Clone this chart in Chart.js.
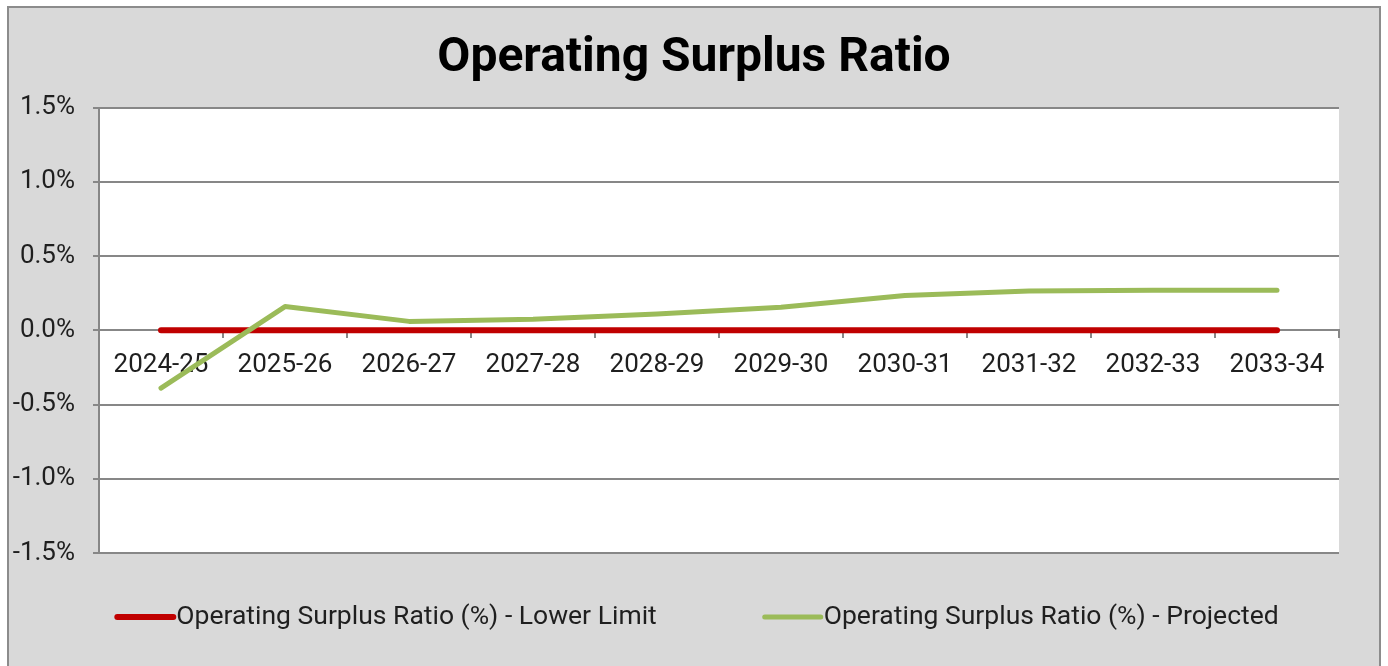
<!DOCTYPE html>
<html>
<head>
<meta charset="utf-8">
<title>Operating Surplus Ratio</title>
<script src="https://cdn.jsdelivr.net/npm/chart.js@4.4.1/dist/chart.umd.min.js"></script>
<style>
    html, body { margin: 0; padding: 0; background: #fff; }
    #ratio-chart { display: block; }
</style>
</head>
<body>
<canvas id="ratio-chart" width="1388" height="666"></canvas>
<script>
// 财年标签
const years = ['2024-25', '2025-26', '2026-27', '2027-28', '2028-29', '2029-30', '2030-31', '2031-32', '2032-33', '2033-34'];
// 下限（%）
const lowerLimit = [0, 0, 0, 0, 0, 0, 0, 0, 0, 0];
// 预测值（%）
const projected = [-0.39, 0.16, 0.06, 0.075, 0.11, 0.155, 0.235, 0.265, 0.27, 0.27];
// Y 轴刻度（%）
const yTicks = [-1.5, -1.0, -0.5, 0, 0.5, 1.0, 1.5];

const GRID_COLOR = '#878787';
const TEXT_COLOR = '#1f1f1f';

Chart.defaults.font.family = 'Roboto';

/**
 * 灰色底框 + 白色绘图区
 */
const framePlugin = {
    id: 'frame',
    beforeDraw(chart) {
        const { ctx, width, height, chartArea: a } = chart;
        ctx.save();
        ctx.fillStyle = '#ffffff';
        ctx.fillRect(0, 0, width, height);
        ctx.fillStyle = '#d9d9d9';
        ctx.fillRect(8, 7, width - 16, height);
        ctx.strokeStyle = '#8c8c8c';
        ctx.lineWidth = 2;
        ctx.strokeRect(8, 7, width - 16, height + 10);
        ctx.fillStyle = '#ffffff';
        ctx.fillRect(a.left, a.top, a.right - a.left, a.bottom - a.top);
        ctx.restore();
    }
};

/**
 * 底部图例：线段 + 文字，按数据集顺序排列
 */
const lineLegendPlugin = {
    id: 'lineLegend',
    afterDraw(chart, args, opts) {
        const { ctx } = chart;
        const items = chart.data.datasets;
        ctx.save();
        ctx.font = opts.fontSize + 'px Roboto';
        const widths = items.map(d => opts.lineLength + opts.textGap + ctx.measureText(d.label).width);
        const total = widths.reduce((s, w) => s + w, 0) + opts.itemGap * (items.length - 1);
        let x = chart.width / 2 - total / 2 + opts.offsetX;
        const y = chart.chartArea.bottom + opts.offsetY;
        items.forEach((d, i) => {
            ctx.strokeStyle = d.borderColor;
            ctx.lineWidth = d.borderWidth;
            ctx.lineCap = 'round';
            ctx.beginPath();
            ctx.moveTo(x, y);
            ctx.lineTo(x + opts.lineLength, y);
            ctx.stroke();
            ctx.fillStyle = TEXT_COLOR;
            ctx.textAlign = 'left';
            ctx.textBaseline = 'middle';
            ctx.fillText(d.label, x + opts.lineLength + opts.textGap, y);
            x += widths[i] + opts.itemGap;
        });
        ctx.restore();
    }
};

const ctx = document.getElementById('ratio-chart').getContext('2d');
const ratioChart = new Chart(ctx, {
    type: 'line',
    data: {
        labels: years,
        datasets: [{
            label: 'Operating Surplus Ratio (%) - Lower Limit',
            data: lowerLimit,
            borderColor: '#c00000',
            borderWidth: 6,
            borderCapStyle: 'round',
            pointRadius: 0,
            tension: 0,
            order: 1
        }, {
            label: 'Operating Surplus Ratio (%) - Projected',
            data: projected,
            borderColor: '#9bbb59',
            borderWidth: 5,
            borderCapStyle: 'round',
            borderJoinStyle: 'round',
            pointRadius: 0,
            tension: 0,
            order: 0
        }]
    },
    options: {
        responsive: false,
        animation: false,
        layout: {
            padding: { top: 0, left: 8, right: 8, bottom: 113 }
        },
        plugins: {
            legend: { display: false },
            tooltip: { enabled: false },
            title: {
                display: true,
                text: 'Operating Surplus Ratio',
                color: '#000000',
                font: { size: 48, weight: 'bold' },
                padding: { top: 30, bottom: 20 }
            },
            lineLegend: {
                fontSize: 26.5,
                lineLength: 56,
                textGap: 3,
                itemGap: 108,
                offsetX: 4,
                offsetY: 64
            }
        },
        scales: {
            x: {
                position: { y: 0 },
                offset: true,
                grid: {
                    offset: true,
                    drawOnChartArea: false,
                    drawTicks: true,
                    tickLength: 7,
                    color: GRID_COLOR,
                    lineWidth: 2
                },
                border: { display: true, color: GRID_COLOR, width: 2 },
                ticks: {
                    color: TEXT_COLOR,
                    font: { size: 26 },
                    padding: 13,
                    maxRotation: 0,
                    autoSkip: false
                }
            },
            y: {
                min: -1.5,
                max: 1.5,
                afterBuildTicks: scale => {
                    scale.ticks = yTicks.map(v => ({ value: v }));
                },
                afterFit: scale => {
                    scale.width = 91;
                },
                grid: {
                    color: GRID_COLOR,
                    lineWidth: 2,
                    tickLength: 6
                },
                border: { display: true, color: GRID_COLOR, width: 2 },
                ticks: {
                    color: TEXT_COLOR,
                    font: { size: 26 },
                    padding: 18,
                    callback: value => value.toFixed(1) + '%'
                }
            },
            // 右侧空白占位轴，让标题在整框内居中
            yRight: {
                position: 'right',
                min: -1.5,
                max: 1.5,
                grid: { display: false },
                border: { display: false },
                ticks: { display: false },
                afterFit: scale => {
                    scale.width = 41;
                }
            }
        }
    },
    plugins: [framePlugin, lineLegendPlugin]
});
</script>
</body>
</html>
